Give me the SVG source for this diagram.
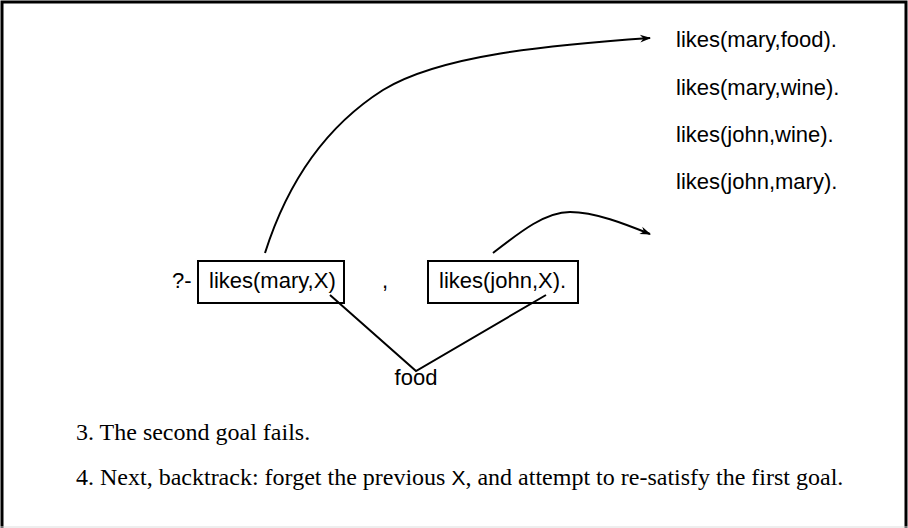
<svg xmlns="http://www.w3.org/2000/svg" width="908" height="528" viewBox="0 0 908 528">
<style>
.code{font-family:"Liberation Sans","DejaVu Sans",sans-serif;font-size:22px;fill:#000}
.prose{font-family:"Liberation Serif","Times New Roman",serif;font-size:24px;fill:#000}
.box{fill:#fff;stroke:#000;stroke-width:2}
.line{fill:none;stroke:#000;stroke-width:2}
</style>
<defs>
<marker id="ah" viewBox="0 0 10 10" refX="9" refY="5" markerWidth="11" markerHeight="11" orient="auto" markerUnits="userSpaceOnUse" overflow="visible">
<path d="M0,1.5 L10,5 L0,8.5 L3,5 Z" fill="#000"/>
</marker>
</defs>
<rect width="908" height="528" fill="#fff"/>
<path d="M2,528 L2,2 L906,2 L906,528" fill="none" stroke="#000" stroke-width="3"/>
<line x1="0" y1="527" x2="908" y2="527" stroke="#ddd" stroke-width="1"/>
<g id="facts">
<text class="code" x="676" y="47">likes(mary,food).</text>
<text class="code" x="676" y="95">likes(mary,wine).</text>
<text class="code" x="676" y="142">likes(john,wine).</text>
<text class="code" x="676" y="189">likes(john,mary).</text>
</g>
<g id="query">
<text class="code" x="172" y="288">?-</text>
<text class="code" x="382" y="288">,</text>
</g>
<g id="goal1">
<rect class="box" x="198" y="261" width="146" height="42"/>
<text class="code" x="209" y="288">likes(mary,X)</text>
</g>
<g id="goal2">
<rect class="box" x="428" y="261" width="150" height="42"/>
<text class="code" x="439" y="288">likes(john,X).</text>
</g>
<g id="food">
<text class="code" x="416" y="385" text-anchor="middle">food</text>
</g>
<g id="connectors">
<path class="line" d="M265,253 C285,190 320,130 383,90 C440,55 550,45 650,38" marker-end="url(#ah)" stroke-width="1.8"/>
<path class="line" d="M493,253 C520,232 545,212 570,212 C595,212 625,224 650,234" marker-end="url(#ah)" stroke-width="1.8"/>
<path class="line" d="M330,295 L416,371 L546,295"/>
</g>
<g id="notes">
<text class="prose" x="76" y="440">3. The second goal fails.</text>
<text class="prose" x="76" y="485">4. Next, backtrack: forget the previous <tspan class="code" style="font-size:21px">X</tspan>, and attempt to re-satisfy the first goal.</text>
</g>
</svg>
